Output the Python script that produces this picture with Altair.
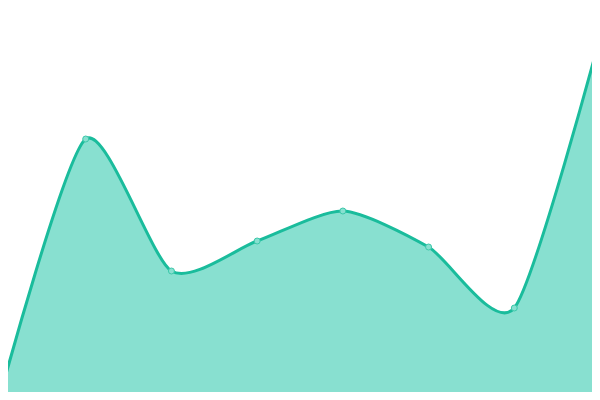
import altair as alt
import pandas as pd

idx = [0, 1, 2, 3, 4, 5, 6, 7]
values = [4, 261, 129, 159, 189, 153, 92, 363]

df = pd.DataFrame({"i": idx, "v": values})

# the page shows the plot from 8px to 592px; map domains to that window
x = alt.X("i:Q", axis=None, scale=alt.Scale(domain=[7 * 8 / 600, 7 * 592 / 600], nice=False, zero=False))
y = alt.Y("v:Q", axis=None, scale=alt.Scale(domain=[8, 392], nice=False))

base = alt.Chart(df).encode(x=x, y=y)

area = base.mark_area(interpolate="cardinal", tension=0.3, color="#88e0d0", opacity=1)
line = base.mark_line(interpolate="cardinal", tension=0.3, color="#1abc9c", strokeWidth=3)
pts = base.mark_point(filled=True, fill="#88e0d0", stroke="#3cc8aa", strokeWidth=1, size=36, opacity=1)

chart = (area + line + pts).properties(
    width=584, height=384,
    padding=0,
    autosize=alt.AutoSizeParams(type="none"),
).configure_view(stroke=None, clip=False)

chart.save("out.html", embed_options={"renderer": "svg", "actions": False})
